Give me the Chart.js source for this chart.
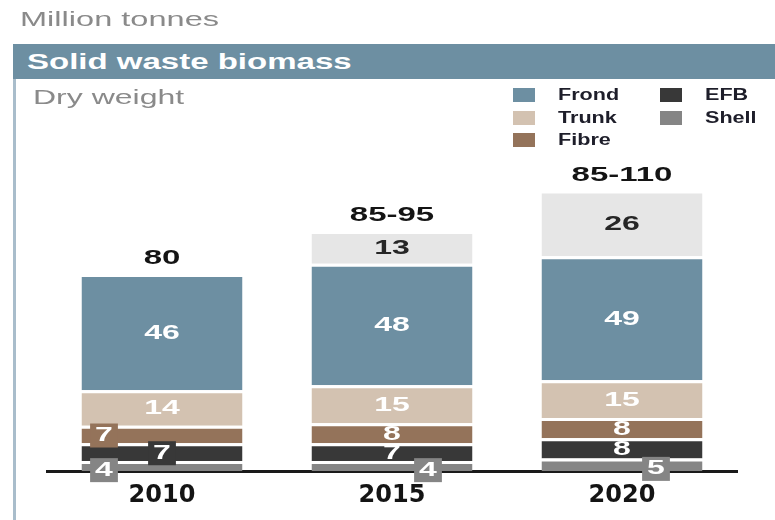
<!DOCTYPE html>
<html>
<head>
<meta charset="utf-8">
<script src="https://cdn.jsdelivr.net/npm/chart.js@4"></script>
<style>
  html, body { margin: 0; padding: 0; background: #fff; }
  body { width: 775px; height: 520px; position: relative; overflow: hidden; font-family: "Liberation Sans", Arial, sans-serif; }
  #chart { position: absolute; left: 0; top: 0; }
  .wide { position: absolute; white-space: nowrap; transform-origin: left center; }
  #units { left: 20px; top: 8px; font-size: 21px; line-height: 21px; color: #8a8a8a; transform: scaleX(1.55); }
  #header { position: absolute; left: 13px; top: 44px; width: 762px; height: 35px; background: #6d8fa2; }
  #title { left: 27px; top: 51px; font-size: 22px; line-height: 22px; font-weight: bold; color: #fff; transform: scaleX(1.5); }
  #rule { position: absolute; left: 13px; top: 79px; width: 3px; height: 441px; background: #a9bdcb; }
  #sub { left: 33px; top: 87px; font-size: 20px; line-height: 20px; color: #8a8a8a; transform: scaleX(1.6); }
  .swatch { position: absolute; width: 22px; height: 14px; }
  .lbl { font-size: 16px; line-height: 16px; font-weight: bold; color: #1e1e2a; transform: scaleX(1.35); }
</style>
</head>
<body>
<canvas id="chart" width="775" height="520"></canvas>
<div id="units" class="wide">Million tonnes</div>
<div id="header"></div>
<div id="title" class="wide">Solid waste biomass</div>
<div id="rule"></div>
<div id="sub" class="wide">Dry weight</div>
<div id="legend"></div>
<script>
// Categories and series (million tonnes, dry weight), stacked bottom to top
const years = ['2010', '2015', '2020'];
const shell = [4, 4, 5];
const efb = [7, 7, 8];
const fibre = [7, 8, 8];
const trunk = [14, 15, 15];
const frond = [46, 48, 49];
const upperRange = [0, 13, 26];
const totals = ['80', '85-95', '85-110'];

const series = [
  { name: 'Shell', values: shell, color: '#858585' },
  { name: 'EFB', values: efb, color: '#383838' },
  { name: 'Fibre', values: fibre, color: '#94735a' },
  { name: 'Trunk', values: trunk, color: '#d3c2b1' },
  { name: 'Frond', values: frond, color: '#6d8fa2' },
  { name: 'Range', values: upperRange, color: '#e6e6e6' }
];

// legend: two columns, Frond/Trunk/Fibre then EFB/Shell
const legendOrder = ['Frond', 'Trunk', 'Fibre', 'EFB', 'Shell'];
const legend = document.getElementById('legend');
legendOrder.forEach((name, i) => {
  const s = series.find(d => d.name === name);
  const col = i < 3 ? 0 : 1;
  const row = i < 3 ? i : i - 3;
  const x = col ? 660 : 513;
  const y = 95 + row * 22.5;
  const sw = document.createElement('div');
  sw.className = 'swatch';
  sw.style.left = x + 'px';
  sw.style.top = (y - 7) + 'px';
  sw.style.background = s.color;
  legend.appendChild(sw);
  const t = document.createElement('div');
  t.className = 'wide lbl';
  t.textContent = name;
  t.style.left = (x + 45) + 'px';
  t.style.top = (y - 8) + 'px';
  legend.appendChild(t);
});

// small segments whose numbers sit in a box beside/over the bar
const boxed = {
  Fibre: [{ dx: -58, dy: 0 }, null, null],
  EFB: [{ dx: 0, dy: 0 }, null, null],
  Shell: [{ dx: -58, dy: 3 }, { dx: 36, dy: 3 }, { dx: 34, dy: 3 }]
};

function wideText(ctx, text, x, y, k) {
  ctx.save();
  ctx.translate(x, y);
  ctx.scale(k, 1);
  ctx.fillText(text, 0, 0);
  ctx.restore();
}

const segmentLabels = {
  id: 'segmentLabels',
  afterDraw(chart) {
    const ctx = chart.ctx;
    const k = 1.6;
    ctx.save();
    ctx.textAlign = 'center';
    ctx.textBaseline = 'middle';
    chart.data.datasets.forEach((ds, di) => {
      const meta = chart.getDatasetMeta(di);
      meta.data.forEach((bar, i) => {
        const v = ds.data[i];
        if (!v) return;
        let x = bar.x;
        let y = (bar.y + bar.base) / 2 + 1;
        ctx.font = 'bold 20px "Liberation Sans", Arial, sans-serif';
        const place = boxed[ds.label] && boxed[ds.label][i];
        if (place) {
          x += place.dx;
          y += place.dy;
          const w = ctx.measureText(String(v)).width * k + 10;
          ctx.fillStyle = ds.backgroundColor;
          ctx.fillRect(x - w / 2, y - 12, w, 24);
        }
        ctx.fillStyle = ds.label === 'Range' ? '#262626' : '#ffffff';
        wideText(ctx, String(v), x, y, k);
      });
    });
    // totals above each column
    const top = chart.getDatasetMeta(chart.data.datasets.length - 1);
    const frondMeta = chart.getDatasetMeta(4);
    ctx.fillStyle = '#141414';
    ctx.font = 'bold 20px "Liberation Sans", Arial, sans-serif';
    years.forEach((yr, i) => {
      const yTop = upperRange[i] ? top.data[i].y : frondMeta.data[i].y;
      wideText(ctx, totals[i], top.data[i].x, yTop - 15, 1.65);
    });
    ctx.restore();
  }
};

new Chart(document.getElementById('chart'), {
  type: 'bar',
  data: {
    labels: years,
    datasets: series.map(s => ({
      label: s.name,
      data: s.values,
      backgroundColor: s.color,
      borderColor: '#ffffff',
      borderWidth: { top: 3, bottom: 0, left: 0, right: 0 },
      borderSkipped: false,
      categoryPercentage: 1,
      barPercentage: 0.7
    }))
  },
  options: {
    responsive: false,
    devicePixelRatio: 1,
    animation: false,
    layout: { padding: { left: 47, right: 38, top: 155, bottom: 0 } },
    plugins: { legend: { display: false }, tooltip: { enabled: false } },
    scales: {
      x: {
        stacked: true,
        grid: { display: false, drawTicks: false },
        border: { display: true, color: '#1a1a1a', width: 3 },
        ticks: {
          padding: 10,
          color: '#141414',
          font: { family: 'DejaVu Sans', size: 24, weight: 'bold' }
        }
      },
      y: {
        stacked: true,
        display: false,
        min: 0,
        max: 125
      }
    }
  },
  plugins: [segmentLabels]
});
</script>
</body>
</html>
